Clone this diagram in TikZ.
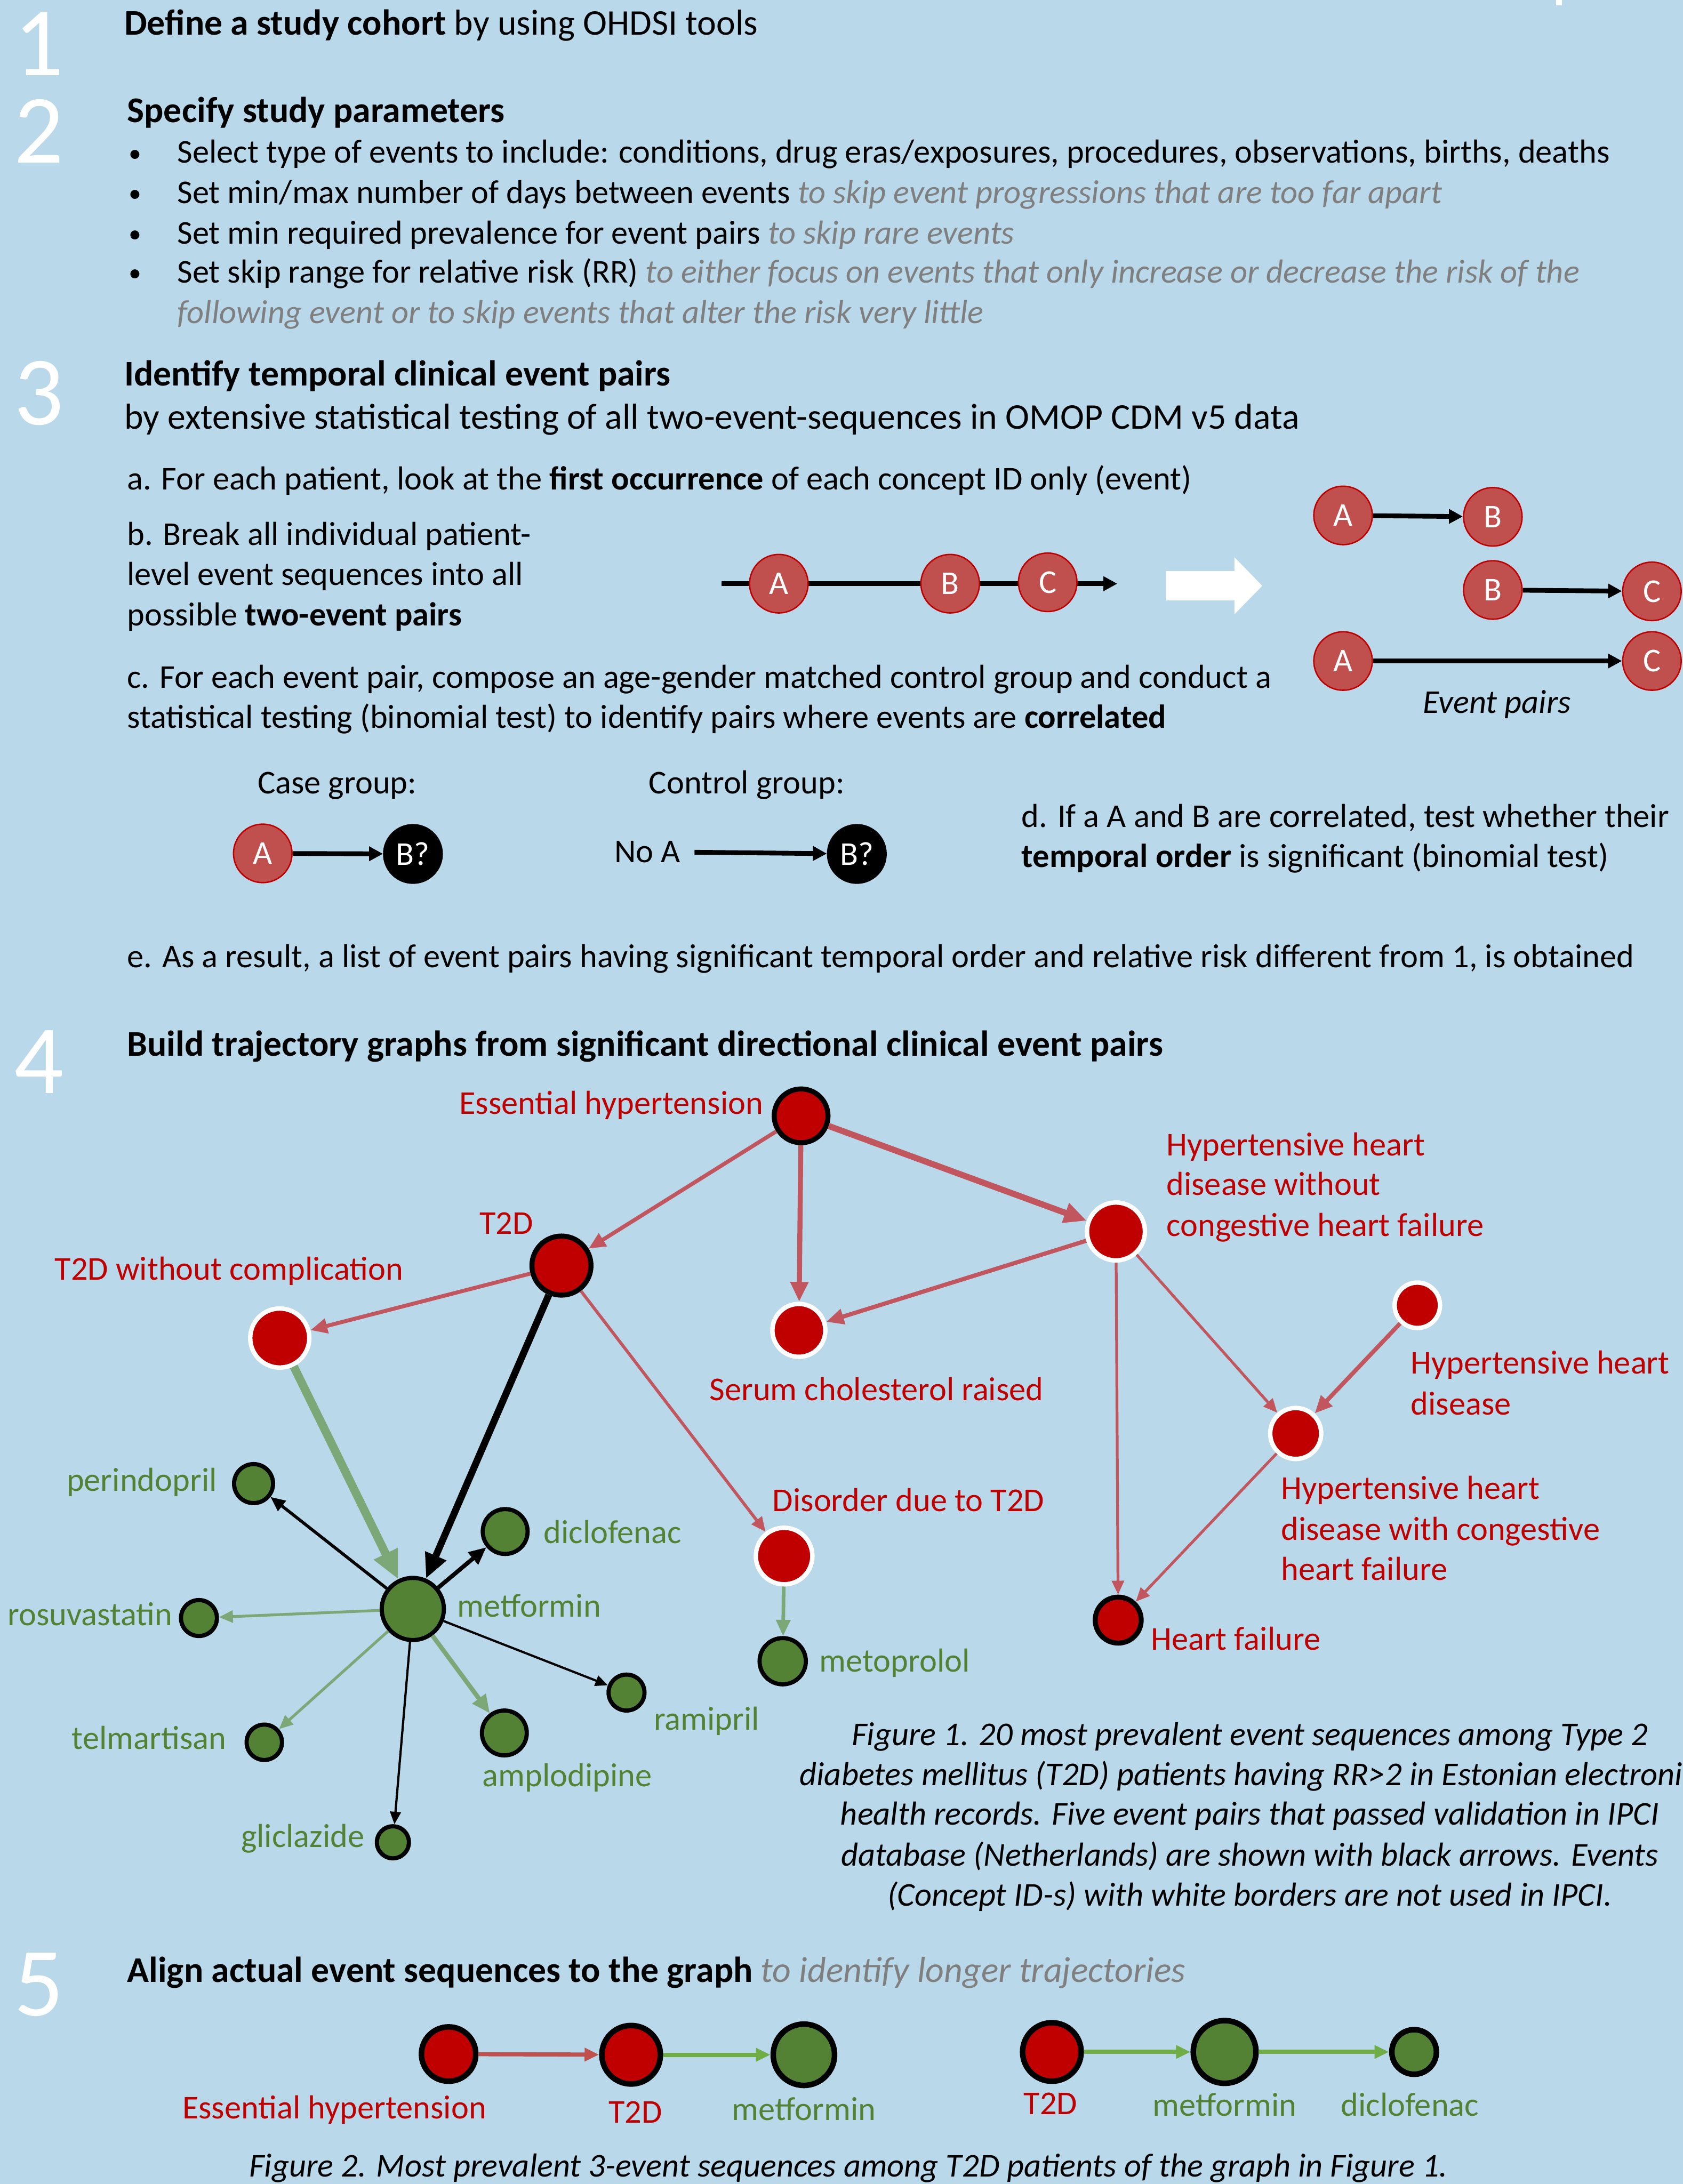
\documentclass[tikz,border=0pt]{standalone}
\usepackage{fontspec}
\setmainfont{Carlito}
\usetikzlibrary{arrows.meta}

\definecolor{bgblue}{RGB}{185,216,233}
\definecolor{evred}{RGB}{192,0,0}
\definecolor{pairred}{RGB}{192,80,77}
\definecolor{edgered}{RGB}{194,86,94}
\definecolor{evgreen}{RGB}{84,130,53}
\definecolor{edgegreen}{RGB}{124,168,120}
\definecolor{seqgreen}{RGB}{112,173,71}
\definecolor{hintgray}{RGB}{127,127,127}

\newcommand{\hint}[1]{{\color{hintgray}\itshape #1}}

\tikzset{
  body/.style={anchor=base west, inner sep=0pt, font=\fontsize{17}{20}\selectfont},
  head/.style={anchor=base west, inner sep=0pt, font=\fontsize{18.45}{22}\selectfont},
  secnum/.style={anchor=base, inner sep=0pt, text=white, font=\fontsize{50}{50}\selectfont},
  redlab/.style={anchor=base west, inner sep=0pt, text=evred, font=\fontsize{17}{20}\selectfont},
  greenlab/.style={anchor=base west, inner sep=0pt, text=evgreen, font=\fontsize{17}{20}\selectfont},
  capline/.style={anchor=base, inner sep=0pt, font=\fontsize{17}{20}\selectfont\itshape},
  pairev/.style={circle, fill=pairred, draw=evred, line width=0.25mm, inner sep=0pt,
    minimum size=10.5mm, text=white, font=\fontsize{17}{20}\selectfont},
  unknown/.style={pairev, fill=black, draw=black},
  pairarrow/.style={line width=0.85mm, -{Triangle[length=2.5mm,width=2.5mm]}},
  evk/.style={circle, fill=evred, draw=black, line width=0.9mm, inner sep=0pt, minimum size=#1},
  evw/.style={evk=#1, draw=white, line width=0.8mm},
  drug/.style={circle, fill=evgreen, draw=black, line width=0.75mm, inner sep=0pt, minimum size=#1},
  tip/.style={-{Triangle[length=1.2mm 2.6, width=1mm 2.3]}},
  redge/.style={tip, draw=edgered, line width=#1},
  gedge/.style={tip, draw=edgegreen, line width=#1},
  kedge/.style={tip, draw=black, line width=#1},
  seqk/.style={circle, draw=black, line width=1mm, inner sep=0pt, minimum size=#1},
  seqarrow/.style={line width=0.75mm, -{Triangle[length=2.6mm,width=2.3mm]}},
}

\begin{document}
\begin{tikzpicture}[x=0.25mm, y=-0.25mm]
  \fill[bgblue] (0,0) rectangle (1208,1567.8);
  \useasboundingbox (0,0) rectangle (1208,1567.8);
  \fill[white] (1117,0) rectangle (1121,4);

  % section numbers
  \node[secnum] (num1) at (28,54) {1};
  \node[secnum] (num2) at (28,117) {2};
  \node[secnum] (num3) at (28,305) {3};
  \node[secnum] (num4) at (28,785) {4};
  \node[secnum] (num5) at (28,1447) {5};

  % 1
  \node[head] (cohort) at (89,25) {\textbf{Define a study cohort} by using OHDSI tools};

  % 2
  \node[head] (params) at (91,88) {\textbf{Specify study parameters}};
  \foreach \y [count=\i] in {117,146,175,203} {
    \node[body, font=\fontsize{13}{15}\selectfont] (dot\i) at (92,\y-1) {•};
  }
  \node[body] (par1) at (127,117) {Select type of events to include: conditions, drug eras/exposures, procedures, observations, births, deaths};
  \node[body] (par2) at (127,146) {Set min/max number of days between events \hint{to skip event progressions that are too far apart}};
  \node[body] (par3) at (127,175) {Set min required prevalence for event pairs \hint{to skip rare events}};
  \node[body] (par4) at (127,203) {Set skip range for relative risk (RR) \hint{to either focus on events that only increase or decrease the risk of the}};
  \node[body] (par5) at (127,232) {\hint{following event or to skip events that alter the risk very little}};

  % 3
  \node[head] (pairs) at (89,277) {\textbf{Identify temporal clinical event pairs}};
  \node[head] (testing) at (89,308) {by extensive statistical testing of all two-event-sequences in OMOP CDM v5 data};
  \node[body] (stepa) at (91,351.5) {a. For each patient, look at the \textbf{first occurrence} of each concept ID only (event)};
  \node[body] (stepb1) at (91,391.5) {b. Break all individual patient-};
  \node[body] (stepb2) at (91,420) {level event sequences into all};
  \node[body] (stepb3) at (91,449) {possible \textbf{two-event pairs}};
  \node[body] (stepc1) at (91,494) {c. For each event pair, compose an age-gender matched control group and conduct a};
  \node[body] (stepc2) at (91,522.5) {statistical testing (binomial test) to identify pairs where events are \textbf{correlated}};
  \node[body] (stepd1) at (733,594) {d. If a A and B are correlated, test whether their};
  \node[body] (stepd2) at (733,622.6) {\textbf{temporal order} is significant (binomial test)};
  \node[body] (stepe) at (91,694.5) {e. As a result, a list of event pairs having significant temporal order and relative risk different from 1, is obtained};

  \coordinate (seqs) at (518,419);
  \coordinate (seqe) at (802,419);
  \draw[pairarrow] (seqs) -- (seqe);
  \node[pairev] (sa) at (559,419) {A};
  \node[pairev] (sb) at (682,419) {B};
  \node[pairev] (sc) at (752,418) {C};
  \fill[white] (837,410) -- (886,410) -- (886,400) -- (906,420.5) -- (886,441) -- (886,431) -- (837,431) -- cycle;

  \node[pairev] (pa1) at (964,370) {A};
  \node[pairev] (pb1) at (1071.5,371) {B};
  \node[pairev] (pb2) at (1071.5,423.5) {B};
  \node[pairev] (pc2) at (1185.7,424.5) {C};
  \node[pairev] (pa3) at (964,474.5) {A};
  \node[pairev] (pc3) at (1185.7,474.5) {C};
  \draw[pairarrow] (pa1) -- (pb1);
  \draw[pairarrow] (pb2) -- (pc2);
  \draw[pairarrow] (pa3) -- (pc3);
  \node[body, anchor=base, font=\fontsize{17}{20}\selectfont\itshape] (evpairs) at (1074.5,512) {Event pairs};

  \node[body, anchor=base] (casegrp) at (242,569.7) {Case group:};
  \node[body, anchor=base] (ctrlgrp) at (536,569.7) {Control group:};
  \node[pairev] (acase) at (188.6,612.6) {A};
  \node[unknown] (bcase) at (296.4,613) {B?};
  \draw[pairarrow] (acase) -- (bcase);
  \node[body, anchor=base] (noa) at (464.6,619) {No A};
  \node[unknown] (bctrl) at (615,613) {B?};
  \draw[pairarrow, shorten <=2.5mm] (noa) -- (bctrl);

  % 4
  \node[head] (graphs) at (91,758) {\textbf{Build trajectory graphs from significant directional clinical event pairs}};

  \node[evk=9.65mm] (eh) at (575,801) {};
  \node[evk=10.6mm] (t2d) at (403,908.5) {};
  \node[evw=10.6mm] (t2dwc) at (200.8,960.5) {};
  \node[evw=9.5mm] (scr) at (573.4,955) {};
  \node[evw=10.4mm] (hhdwo) at (801,884) {};
  \node[evw=8.15mm] (hhd) at (1017.3,937) {};
  \node[evw=9.15mm] (hhdw) at (930,1029) {};
  \node[evk=8.25mm] (hf) at (802.6,1163) {};
  \node[evw=10.15mm] (dd) at (562.8,1117) {};
  \node[drug=8.3mm] (metop) at (561.8,1192.5) {};
  \node[drug=11.15mm] (metf) at (296.3,1155) {};
  \node[drug=7mm] (perin) at (182,1065) {};
  \node[drug=8.05mm] (diclo) at (362.6,1099.4) {};
  \node[drug=6.45mm] (rosu) at (142.8,1161.5) {};
  \node[drug=6.35mm] (telm) at (189.7,1250.7) {};
  \node[drug=8.05mm] (amplo) at (362,1244) {};
  \node[drug=6.45mm] (rami) at (449.7,1215) {};
  \node[drug=5.75mm] (glic) at (282,1322.5) {};

  \draw[redge=0.7mm] (eh) -- (t2d);
  \draw[redge=0.9mm] (eh) -- (scr);
  \draw[redge=1.1mm] (eh) -- (hhdwo);
  \draw[redge=0.7mm] (t2d) -- (t2dwc);
  \draw[redge=0.55mm] (t2d) -- (dd);
  \draw[redge=0.75mm] (hhdwo) -- (scr);
  \draw[redge=0.5mm] (hhdwo) -- (hf);
  \draw[redge=0.5mm] (hhdwo) -- (hhdw);
  \draw[redge=0.75mm] (hhd) -- (hhdw);
  \draw[redge=0.5mm] (hhdw) -- (hf);
  \draw[gedge=1.5mm] (t2dwc) -- (metf);
  \draw[kedge=1.25mm] (t2d) -- (metf);
  \draw[kedge=0.55mm] (metf) -- (perin);
  \draw[kedge=0.75mm] (metf) -- (diclo);
  \draw[gedge=0.5mm] (metf) -- (rosu);
  \draw[gedge=0.5mm] (metf) -- (telm);
  \draw[gedge=0.8mm] (metf) -- (amplo);
  \draw[kedge=0.4mm] (metf) -- (rami);
  \draw[kedge=0.4mm] (metf) -- (glic);
  \draw[gedge=0.65mm] (dd) -- (metop);

  \node[redlab] (lbeh) at (329.4,799.8) {Essential hypertension};
  \node[redlab] (lbt2d) at (344,885.8) {T2D};
  \node[redlab] (lbt2dwc) at (39,919) {T2D without complication};
  \node[redlab] (lbscr) at (509,1005.5) {Serum cholesterol raised};
  \node[redlab] (lbwo1) at (837,829.5) {Hypertensive heart};
  \node[redlab] (lbwo2) at (837,858) {disease without};
  \node[redlab] (lbwo3) at (837,887.3) {congestive heart failure};
  \node[redlab] (lbhhd1) at (1012.4,986.3) {Hypertensive heart};
  \node[redlab] (lbhhd2) at (1012.4,1015.5) {disease};
  \node[redlab] (lbw1) at (919.3,1076.2) {Hypertensive heart};
  \node[redlab] (lbw2) at (919.3,1105.6) {disease with congestive};
  \node[redlab] (lbw3) at (919.3,1134.3) {heart failure};
  \node[redlab] (lbdd) at (554.3,1085) {Disorder due to T2D};
  \node[redlab] (lbhf) at (825.8,1184.4) {Heart failure};
  \node[greenlab] (lbmetop) at (588,1200) {metoprolol};
  \node[greenlab] (lbmetf) at (328,1160.8) {metformin};
  \node[greenlab] (lbdiclo) at (390,1108) {diclofenac};
  \node[greenlab, anchor=base east] (lbperin) at (156,1070.3) {perindopril};
  \node[greenlab, anchor=base east] (lbrosu) at (124,1166.8) {rosuvastatin};
  \node[greenlab, anchor=base east] (lbtelm) at (162.6,1255.8) {telmartisan};
  \node[greenlab] (lbamplo) at (346,1282.5) {amplodipine};
  \node[greenlab] (lbrami) at (469,1242) {ramipril};
  \node[greenlab, anchor=base east] (lbglic) at (262,1326) {gliclazide};

  \node[capline] (cap1a) at (897,1252.8) {Figure 1. 20 most prevalent event sequences among Type 2};
  \node[capline, anchor=base west] (cap1b) at (573.7,1281.5) {diabetes mellitus (T2D) patients having RR>2 in Estonian electronic};
  \node[capline] (cap1c) at (897,1310) {health records. Five event pairs that passed validation in IPCI};
  \node[capline] (cap1d) at (897,1339.5) {database (Netherlands) are shown with black arrows. Events};
  \node[capline] (cap1e) at (897,1368) {(Concept ID-s) with white borders are not used in IPCI.};

  % 5
  \node[head] (align) at (91,1423) {\textbf{Align actual event sequences to the graph} \hint{to identify longer trajectories}};

  \node[seqk=9.75mm, fill=evred] (seh) at (322,1474.5) {};
  \node[seqk=10.5mm, fill=evred] (st2d) at (453,1475) {};
  \node[seqk=11mm, fill=evgreen] (smetf) at (577,1475) {};
  \node[seqk=10.5mm, fill=evred] (st2db) at (755,1473) {};
  \node[seqk=11.25mm, fill=evgreen] (smetfb) at (879,1473) {};
  \node[seqk=8mm, fill=evgreen] (sdiclo) at (1015,1473) {};
  \draw[seqarrow, pairred] (seh) -- (st2d);
  \draw[seqarrow, seqgreen] (st2d) -- (smetf);
  \draw[seqarrow, seqgreen] (st2db) -- (smetfb);
  \draw[seqarrow, seqgreen] (smetfb) -- (sdiclo);

  \node[redlab, anchor=base] (lseh) at (240,1521) {Essential hypertension};
  \node[redlab, anchor=base] (lst2d) at (456,1524) {T2D};
  \node[greenlab, anchor=base] (lsmetf) at (577,1522) {metformin};
  \node[redlab, anchor=base] (lst2db) at (754,1518) {T2D};
  \node[greenlab, anchor=base] (lsmetfb) at (879,1519) {metformin};
  \node[greenlab, anchor=base] (lsdiclo) at (1012,1519) {diclofenac};

  \node[capline] (cap2) at (609,1562.5) {Figure 2. Most prevalent 3-event sequences among T2D patients of the graph in Figure 1.};
\end{tikzpicture}
\end{document}
